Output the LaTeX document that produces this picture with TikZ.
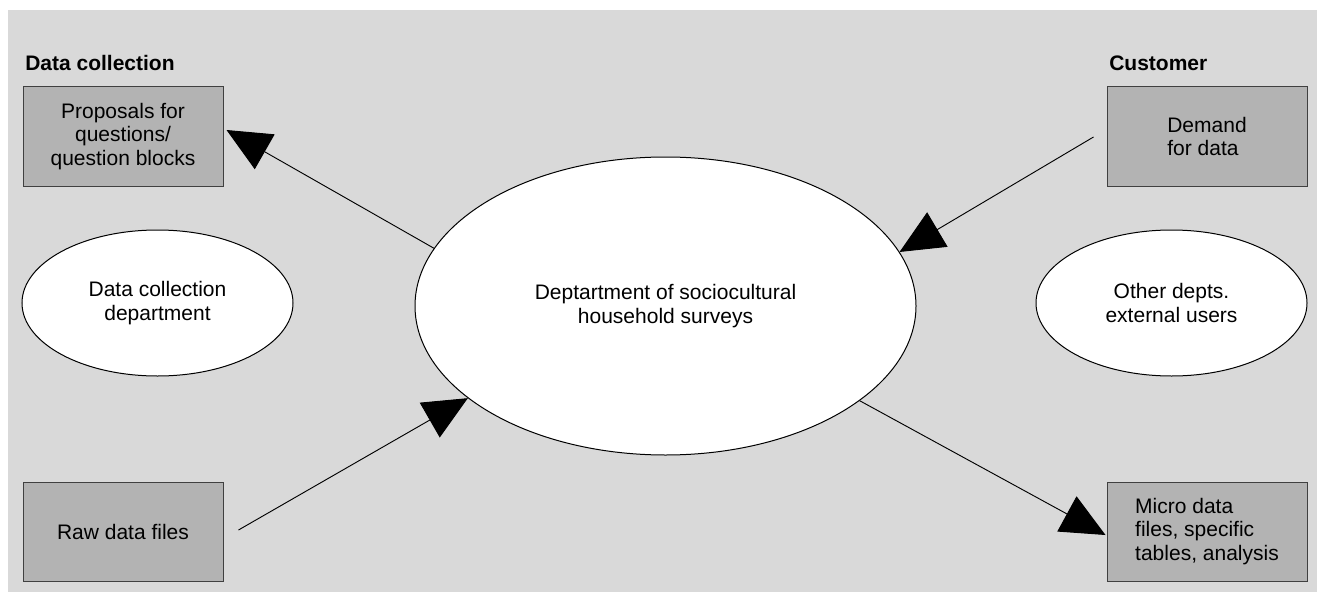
\documentclass[tikz,border=0pt]{standalone}
\usepackage{fontspec}
\setmainfont{Liberation Sans}
\usetikzlibrary{arrows.meta,shapes.geometric,calc}
\definecolor{bgc}{HTML}{D9D9D9}
\definecolor{boxfill}{HTML}{B3B3B3}
\definecolor{boxline}{HTML}{404040}
\tikzset{
  txt/.style={font=\fontsize{15.75}{17.5}\selectfont},
  box/.style={txt, draw=boxline, fill=boxfill, line width=0.75pt, minimum width=150pt, minimum height=74.25pt, inner sep=0pt, align=center},
  oval/.style={txt, ellipse, draw=black, fill=white, line width=0.75pt, inner sep=0pt, align=center},
  conn/.style={draw=black, line width=0.7pt, -{Triangle[length=33pt,width=30pt]}},
  heading/.style={font=\fontsize{15.75}{17.5}\selectfont\bfseries, anchor=base west, inner sep=0pt}
}
\begin{document}
\begin{tikzpicture}[x=0.75pt,y=-0.75pt]
\useasboundingbox (0,0) rectangle (1317,592);
\fill[bgc] (8,10) rectangle (1317,592);
\node[heading] (hdc) at (25,70) {Data collection};
\node[heading] (hcu) at (1109,70) {Customer};
\node[box] (prop) at (123,136.5) {Proposals for\\questions/\\question blocks};
\node[box, align=left] (demand) at (1207,136.5) {Demand\\for data};
\node[box] (raw) at (123,531.5) {Raw data files};
\node[box, align=left] (micro) at (1207,531.5) {Micro data\\files, specific\\tables, analysis};
\node[oval, minimum width=203.25pt, minimum height=109.5pt] (dcd) at (157.5,303) {Data collection\\department};
\node[oval, minimum width=203.25pt, minimum height=109.5pt] (ext) at (1171.5,303) {Other depts.\\external users};
\node[oval, minimum width=375.75pt, minimum height=223.5pt] (main) at (665.5,306) {Deptartment of sociocultural\\household surveys};
\draw[conn] (main.166.75) -- ($(prop.east)+(3,-6.5)$);
\draw[conn] ($(demand.west)+(-13,0.5)$) -- (main.13.2);
\draw[conn] ($(raw.east)+(15,-1.5)$) -- (main.205.9);
\draw[conn] (main.334.6) -- ($(micro.west)+(-1,3.5)$);
\end{tikzpicture}
\end{document}
